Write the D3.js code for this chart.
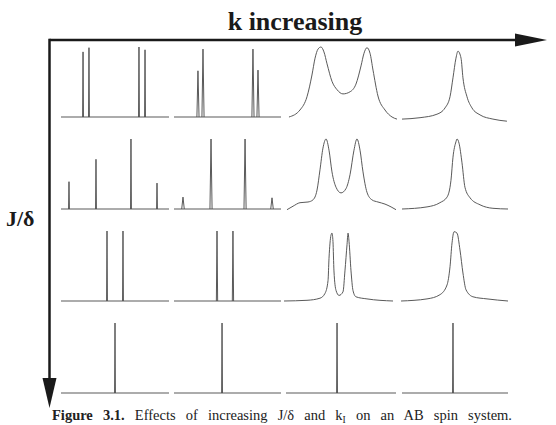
<!DOCTYPE html>
<html>

<head>
  <title>AB spin system</title>
  <script src="https://cdn.jsdelivr.net/npm/d3@7"></script>
  <style>
    body { margin: 0; background: #fff; }
    .spec { fill: none; stroke: #505050; stroke-width: 0.95; }
    .axis-arrow { stroke: #1a1a1a; stroke-width: 2.5; }
  </style>
</head>

<body>
  <svg width="556" height="425" id="mainsvg"></svg>
  <script>
    const svg = d3.select('svg');
    const width = +svg.attr('width');
    const height = +svg.attr('height');

    // labels
    const titleText = 'k increasing';
    const sideText = 'J/δ';
    const captionBold = 'Figure 3.1.';
    const captionText = ['Effects of increasing J/δ and k', 'I', ' on an AB spin system.'];

    // stick spectra: [frequency (0-100 of panel), intensity (0-100), half width]
    const r1c1 = [[20.4, 93, 0.4], [25.9, 99, 0.4], [72.2, 100, 0.4], [77.8, 96, 0.4]];
    const r2c1 = [[7.4, 39, 0.4], [32.4, 71, 0.4], [64.8, 100, 0.4], [88.9, 37, 0.4]];
    const r3c1 = [[42.6, 100, 0.4], [57.4, 100, 0.4]];
    const r4c1 = [[50.0, 100, 0.4]];

    const r1c2 = [[22.4, 66, 1.0], [27.1, 97, 1.0], [73.8, 97, 1.0], [78.5, 67, 1.0]];
    const r2c2 = [[8.4, 17, 1.2], [34.6, 100, 1.0], [66.4, 100, 1.0], [91.6, 16, 1.2]];
    const r3c2 = [[40.2, 100, 0.6], [55.1, 100, 0.6]];
    const r4c2 = [[44.9, 100, 0.4]];

    const r4c3 = [[46.4, 100, 0.4]];
    const r4c4 = [[48.1, 100, 0.4]];

    // exchange-broadened spectra: [frequency, intensity]
    const r1c3 = [[2.7, 0], [12.7, 10], [19.1, 29], [23.6, 60], [26.4, 84], [29.1, 97], [31.8, 100], [34.5, 93],
      [37.3, 76], [41.8, 51], [46.4, 39], [51.8, 33], [58.2, 36], [63.6, 47], [68.2, 73], [70.9, 91], [73.6, 99],
      [76.4, 91], [79.1, 67], [83.6, 30], [90, 10], [96.4, 0], [100.9, -3]];
    const r2c3 = [[0.9, -1], [6.4, 4], [12.7, 9], [20, 10], [24.5, 13], [28.2, 27], [30.9, 56], [33.6, 87],
      [36.4, 100], [39.1, 84], [41.8, 53], [45.5, 31], [50, 23], [54.5, 29], [58.2, 49], [61.8, 84], [64.5, 100],
      [67.3, 84], [70, 53], [73.6, 24], [78.2, 13], [83.6, 10], [90, 7], [95.5, 3], [100, -1]];
    const r3c3 = [[-1.8, 0], [19.1, 1], [30.9, 4], [35.5, 11], [38.2, 29], [39.1, 61], [40.9, 94], [41.8, 97],
      [42.7, 85], [43.6, 43], [45.5, 15], [48.2, 8], [51.8, 13], [53.6, 43], [55.5, 81], [56.4, 97], [57.3, 85],
      [59.1, 43], [60.9, 15], [63.6, 6], [73.6, 3], [97.3, 0]];

    const r1c4 = [[0, -3], [17, -1], [33, 4], [40.6, 13], [45.3, 29], [48.1, 56], [50.9, 84], [52.8, 94],
      [55.7, 84], [57.5, 56], [61.3, 29], [66, 13], [73.6, 3], [85.8, -3], [99, -6]];
    const r2c4 = [[0, 0], [23.6, 3], [35.8, 9], [42.5, 17], [46.2, 41], [48.1, 74], [50.9, 96], [51.9, 100],
      [53.8, 94], [56.6, 66], [59.4, 31], [64.2, 16], [73.6, 6], [85.8, 1], [100, 0]];
    const r3c4 = [[-0.9, 0], [23.6, 3], [35.8, 9], [42.5, 23], [45.3, 49], [47.2, 83], [49.1, 99], [51.9, 97],
      [54.7, 73], [57.5, 40], [60.4, 16], [67, 6], [80.2, 3], [100, 0]];

    const panels = [
      { row: 0, col: 0, sticks: r1c1 }, { row: 0, col: 1, sticks: r1c2 }, { row: 0, col: 2, curve: r1c3 }, { row: 0, col: 3, curve: r1c4 },
      { row: 1, col: 0, sticks: r2c1 }, { row: 1, col: 1, sticks: r2c2 }, { row: 1, col: 2, curve: r2c3 }, { row: 1, col: 3, curve: r2c4 },
      { row: 2, col: 0, sticks: r3c1 }, { row: 2, col: 1, sticks: r3c2 }, { row: 2, col: 2, curve: r3c3 }, { row: 2, col: 3, curve: r3c4 },
      { row: 3, col: 0, sticks: r4c1 }, { row: 3, col: 1, sticks: r4c2 }, { row: 3, col: 2, sticks: r4c3 }, { row: 3, col: 3, sticks: r4c4 }
    ];

    // layout
    const colX = [[61, 169], [174, 281], [286, 396], [402, 508]];
    const rowBase = [117, 209, 301, 393];
    const rowH = 70;
    const corner = { x: 49.5, y: 40 };

    const lineGen = d3.line().x(d => d[0]).y(d => d[1]);
    const curveGen = d3.line().x(d => d[0]).y(d => d[1]).curve(d3.curveMonotoneX);

    const specGroup = svg.append('g');
    panels.forEach(p => {
      const x = d3.scaleLinear().domain([0, 100]).range(colX[p.col]);
      const y = d3.scaleLinear().domain([0, 100]).range([rowBase[p.row], rowBase[p.row] - rowH]);
      const g = specGroup.append('g');
      if (p.sticks) {
        g.append('path').attr('class', 'spec')
          .attr('d', lineGen([[x(0), y(0)], [x(100), y(0)]]));
        g.selectAll('.peak').data(p.sticks).join('path')
          .attr('class', 'spec peak')
          .attr('d', d => lineGen([[x(d[0] - d[2]), y(0)], [x(d[0]), y(d[1])], [x(d[0] + d[2]), y(0)]]));
      } else {
        g.append('path').attr('class', 'spec')
          .attr('d', curveGen(p.curve.map(d => [x(d[0]), y(d[1])])));
      }
    });

    // arrows
    svg.append('line').attr('class', 'axis-arrow')
      .attr('x1', corner.x).attr('y1', corner.y).attr('x2', 518).attr('y2', corner.y);
    svg.append('path').attr('fill', '#1a1a1a')
      .attr('d', `M515,${corner.y - 6.5}L547,${corner.y}L515,${corner.y + 6.5}Z`);
    svg.append('line').attr('class', 'axis-arrow')
      .attr('x1', corner.x).attr('y1', corner.y - 1.25).attr('x2', corner.x).attr('y2', 381);
    svg.append('path').attr('fill', '#1a1a1a')
      .attr('d', `M${corner.x - 7},378L${corner.x},408L${corner.x + 7},378Z`);

    // title and side label
    svg.append('text')
      .attr('x', 295).attr('y', 30)
      .attr('text-anchor', 'middle')
      .style('font-family', '"Liberation Serif", "Times New Roman", serif')
      .style('font-weight', 'bold')
      .style('font-size', '26px')
      .attr('fill', '#1a1a1a')
      .text(titleText);

    svg.append('text')
      .attr('x', 6).attr('y', 226)
      .style('font-family', '"Liberation Serif", "Times New Roman", serif')
      .style('font-weight', 'bold')
      .style('font-size', '22px')
      .attr('fill', '#1a1a1a')
      .text(sideText);

    // caption, justified between 52 and 512
    const cap = svg.append('text')
      .attr('x', 52).attr('y', 420)
      .style('font-family', '"Liberation Serif", "Times New Roman", serif')
      .style('font-size', '14.5px')
      .attr('fill', '#222');
    cap.append('tspan').style('font-weight', 'bold').text(captionBold + ' ');
    cap.append('tspan').text(captionText[0]);
    cap.append('tspan').attr('dy', 3).style('font-size', '9.5px').text(captionText[1]);
    cap.append('tspan').attr('dy', -3).text(captionText[2]);
    const natural = cap.node().getComputedTextLength();
    const nSpaces = (captionBold + ' ' + captionText.join('')).split(' ').length - 1;
    cap.style('word-spacing', `${Math.max(0, (512 - 52 - natural) / nSpaces)}px`);
  </script>
</body>

</html>
